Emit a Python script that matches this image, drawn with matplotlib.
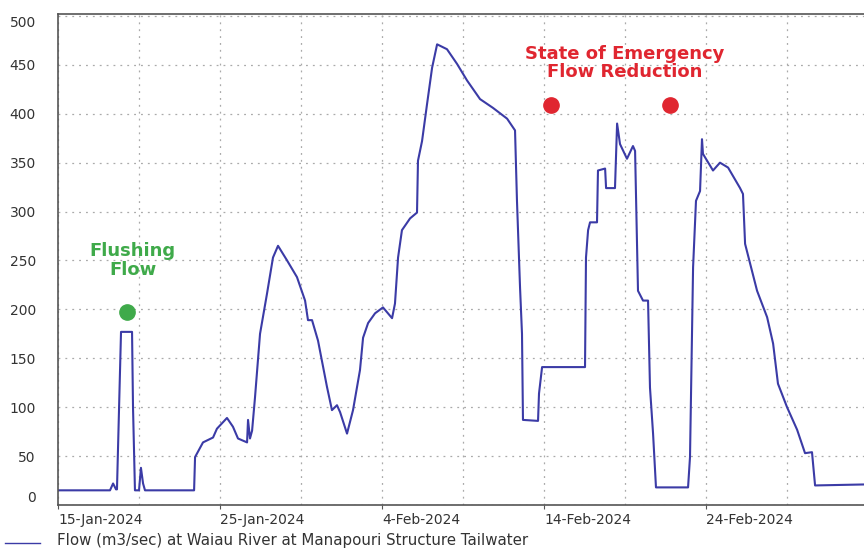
import numpy as np
import pandas as pd
import matplotlib
matplotlib.use("Agg")
import matplotlib.pyplot as plt
import matplotlib.dates as mdates

# Flow record, days after 15-Jan-2024 00:00 and flow (m3/sec)
start = pd.Timestamp("2024-01-15")
days = [0.00, 3.21, 3.40, 3.58, 3.64, 3.77, 3.89, 4.57, 4.63, 4.75, 5.00, 5.12,
        5.25, 5.37, 8.40, 8.46, 8.95, 9.57, 9.81, 10.43, 10.80, 11.11, 11.67,
        11.73, 11.85, 11.98, 12.16, 12.47, 12.90, 13.27, 13.58, 14.14, 14.75,
        15.25, 15.43, 15.68, 16.05, 16.60, 16.91, 17.22, 17.41, 17.84, 18.21,
        18.64, 18.83, 19.14, 19.57, 20.06, 20.62, 20.80, 20.99, 21.23, 21.73,
        22.16, 22.22, 22.47, 22.78, 23.09, 23.40, 24.01, 24.63, 25.25, 26.05,
        26.85, 27.72, 28.21, 28.33, 28.52, 28.64, 28.70, 29.63, 29.69, 29.88,
        32.53, 32.59, 32.72, 32.84, 33.27, 33.33, 33.77, 33.83, 34.38, 34.51,
        34.69, 35.12, 35.49, 35.62, 35.80, 36.11, 36.42, 36.54, 36.73, 36.91,
        38.89, 39.01, 39.20, 39.38, 39.63, 39.75, 39.81, 40.43, 40.86, 41.36,
        42.10, 42.28, 42.41, 43.15, 43.77, 44.14, 44.44, 45.00, 45.62, 46.11,
        46.54, 46.73, 49.75]
flow = [15, 15, 22, 16, 16, 100, 177, 177, 100, 15, 15, 38,
        22, 15, 15, 49, 64, 69, 78, 89, 80, 68, 64,
        87, 68, 76, 110, 175, 216, 253, 265, 250, 233,
        209, 189, 189, 168, 121, 97, 102, 95, 73, 97,
        138, 171, 186, 196, 202, 191, 206, 253, 281, 293,
        299, 352, 372, 410, 447, 471, 466, 451, 434, 415,
        406, 395, 383, 311, 222, 175, 87, 86, 114, 141,
        141, 253, 281, 289, 289, 342, 344, 324, 324, 390,
        369, 354, 367, 362, 219, 209, 209, 120, 73, 18,
        18, 49, 243, 311, 321, 374, 359, 342, 350, 345,
        324, 318, 267, 219, 192, 165, 124, 100, 77, 53,
        54, 20, 21]

# annotation markers (day offset, flow)
flush_dot = (4.26, 197)
emergency_dots = [(30.43, 409), (37.78, 409)]

y_ticks = [0, 50, 100, 150, 200, 250, 300, 350, 400, 450, 500]
series_label = "Flow (m3/sec) at Waiau River at Manapouri Structure Tailwater"

times = start + pd.to_timedelta(days, unit="D")


def day(d):
    return start + pd.Timedelta(days=d)


fig = plt.figure(figsize=(8.64, 5.5), dpi=100)
ax = fig.add_axes([58 / 864, 45 / 550, 1 - 58 / 864, 491 / 550])

line_color = "#3b3ba6"
ax.plot(times, flow, color=line_color, lw=1.5)

ax.set_xlim(day(0), day(49.75))
ax.set_ylim(0, 502)

# axes and grid
ax.set_yticks(y_ticks)
major = pd.date_range("2024-01-15", periods=5, freq="10D")
minor = pd.date_range("2024-01-20", periods=5, freq="10D")
ax.set_xticks(major)
ax.set_xticks(minor, minor=True)
ax.xaxis.set_major_formatter(mdates.DateFormatter("%-d-%b-%Y"))
ax.grid(True, which="both", color="#aaaaaa", ls=(0, (1.5, 4)), lw=0.9)
ax.tick_params(axis="x", which="major", length=3, color="#555555",
               labelsize=10, labelcolor="#333333", pad=3)
ax.tick_params(axis="x", which="minor", length=0)
ax.tick_params(axis="y", length=0, labelsize=10, labelcolor="#333333", pad=16)
for lab in ax.get_xticklabels():
    lab.set_ha("left")
ylabs = ax.get_yticklabels()
ylabs[0].set_va("bottom")
ylabs[-1].set_va("top")

ax.spines["right"].set_visible(False)
for s in ["left", "top", "bottom"]:
    ax.spines[s].set_color("#555555")
    ax.spines[s].set_linewidth(1.2)

# annotations
green = "#3faa4a"
red = "#e02630"
ax.plot(day(flush_dot[0]), flush_dot[1], "o", color=green, ms=11, zorder=5)
ax.text(day(4.6), 250, "Flushing\nFlow", color=green, fontsize=13,
        fontweight="bold", ha="center", va="center", linespacing=1.05)
for d, v in emergency_dots:
    ax.plot(day(d), v, "o", color=red, ms=11, zorder=5)
ax.text(day(34.95), 452, "State of Emergency\nFlow Reduction", color=red,
        fontsize=13, fontweight="bold", ha="center", va="center",
        linespacing=1.05)

# legend line under axis
fig.lines.append(plt.Line2D([5 / 864, 40 / 864], [7 / 550, 7 / 550],
                            transform=fig.transFigure, color=line_color, lw=1))
fig.text(57 / 864, 9 / 550, series_label, fontsize=10.8, color="#333333",
         va="center", ha="left")

fig.savefig("out.png", dpi=100)
